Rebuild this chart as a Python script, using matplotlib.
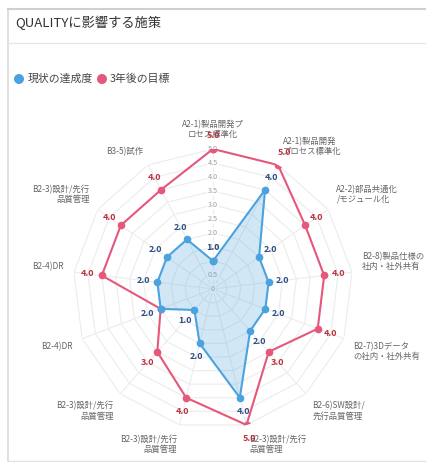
import numpy as np
import matplotlib.pyplot as plt
from matplotlib.patches import Circle

plt.rcParams['font.family'] = ['Noto Sans CJK JP', 'DejaVu Sans']

# ------------------------------
# Datos
# ------------------------------
labels = [
    "A2-1)製品開発プ\nロセス標準化",
    "A2-1)製品開発\nプロセス標準化",
    "A2-2)部品共通化\n/モジュール化",
    "B2-8)製品仕様の\n社内・社外共有",
    "B2-7)3Dデータ\nの社内・社外共有",
    "B2-6)SW設計/\n先行品質管理",
    "B2-3)設計/先行\n品質管理",
    "B2-3)設計/先行\n品質管理",
    "B2-3)設計/先行\n品質管理",
    "B2-4)DR",
    "B2-4)DR",
    "B2-3)設計/先行\n品質管理",
    "B3-5)試作",
]
current = [1, 4, 2, 2, 2, 2, 4, 2, 1, 2, 2, 2, 2]
target = [5, 5, 4, 4, 4, 3, 5, 4, 3, 2, 4, 4, 4]
ticks = [0, 0.5, 1.0, 1.5, 2.0, 2.5, 3.0, 3.5, 4.0, 4.5, 5.0]
series_names = ["現状の達成度", "3年後の目標"]

blue = "#4aa3df"
pink = "#e5577b"
blue_txt = "#2d4d80"
pink_txt = "#b8323f"

W, H = 426, 462
fig = plt.figure(figsize=(W / 100, H / 100), dpi=100)

# ------------------------------
# Tarjeta: marco, título, leyenda
# ------------------------------
bg = fig.add_axes([0, 0, 1, 1])
bg.set_xlim(0, W); bg.set_ylim(H, 0); bg.axis("off")
bg.plot([8, 8], [9, 461], color="#d9d9d9", lw=1.2)
bg.plot([8, W], [9, 9], color="#d0d0d0", lw=1.5)
bg.plot([8, W], [461, 461], color="#e0e0e0", lw=1.0)
bg.plot([8, W], [43, 43], color="#e6e6e6", lw=1.0)
bg.text(15, 23, "QUALITYに影響する施策", fontsize=9.5, color="#333333", va="center")
bg.add_patch(Circle((19, 79), 5, color=blue, lw=0))
bg.text(28, 79, series_names[0], fontsize=7.8, color="#444444", va="center")
bg.add_patch(Circle((102, 79), 5, color=pink, lw=0))
bg.text(110, 79, series_names[1], fontsize=7.8, color="#444444", va="center")

# ------------------------------
# Radar
# ------------------------------
cx, cy, R = 213, 289, 140
ax = fig.add_axes([(cx - R) / W, (H - cy - R) / H, 2 * R / W, 2 * R / H], projection="polar")
ax.set_theta_zero_location("N")
ax.set_theta_direction(-1)
ax.set_ylim(0, 5)
ax.axis("off")

n = len(labels)
theta = np.linspace(0, 2 * np.pi, n, endpoint=False)
th_c = np.append(theta, theta[0])

# grid poligonal
for t in ticks[1:]:
    ax.plot(th_c, [t] * (n + 1), color="#ececec", lw=0.8, zorder=1)
for th in theta:
    ax.plot([th, th], [0, 5], color="#ececec", lw=0.8, zorder=1)

# etiquetas de escala
for t in ticks:
    txt = "0" if t == 0 else f"{t:.1f}"
    ax.text(0, t, txt, fontsize=5.2, color="#a0a0a0", ha="center", va="center",
            zorder=2, bbox=dict(boxstyle="square,pad=0.1", fc="white", ec="none", alpha=0.8))

# series
cur_c = np.append(current, current[0])
tar_c = np.append(target, target[0])
ax.fill(th_c, cur_c, color=blue, alpha=0.25, lw=0, zorder=3)
ax.plot(th_c, tar_c, color=pink, lw=1.5, marker="o", ms=4.5, zorder=4)
ax.plot(th_c, cur_c, color=blue, lw=1.5, marker="o", ms=4.5, zorder=5)

# etiquetas de datos (las que se solapan se ocultan)
for th, c, t in zip(theta, current, target):
    ax.annotate(f"{c:.1f}", (th, c), xytext=(14 * np.sin(th), 14 * np.cos(th)),
                textcoords="offset pixels", ha="center", va="center",
                fontsize=6.5, fontweight="bold", color=blue_txt, zorder=7,
                annotation_clip=False)
    if t != c:
        ax.annotate(f"{t:.1f}", (th, t), xytext=(14 * np.sin(th), 14 * np.cos(th)),
                    textcoords="offset pixels", ha="center", va="center",
                    fontsize=6.5, fontweight="bold", color=pink_txt, zorder=6,
                    annotation_clip=False)

# etiquetas de ejes
for th, lab in zip(theta, labels):
    deg = np.degrees(th)
    if np.isclose(deg, 0) or np.isclose(deg, 180):
        ha = "center"
    elif deg < 180:
        ha = "left"
    else:
        ha = "right"
    va = "top" if 90 < deg < 270 else "bottom"
    ax.annotate(lab, (th, 5), xytext=(10 * np.sin(th), 10 * np.cos(th)),
                textcoords="offset pixels", ha=ha, va=va, multialignment=ha,
                fontsize=6, color="#666666", linespacing=1.15,
                annotation_clip=False, zorder=5)

plt.savefig("out.png", dpi=100)
plt.close()
